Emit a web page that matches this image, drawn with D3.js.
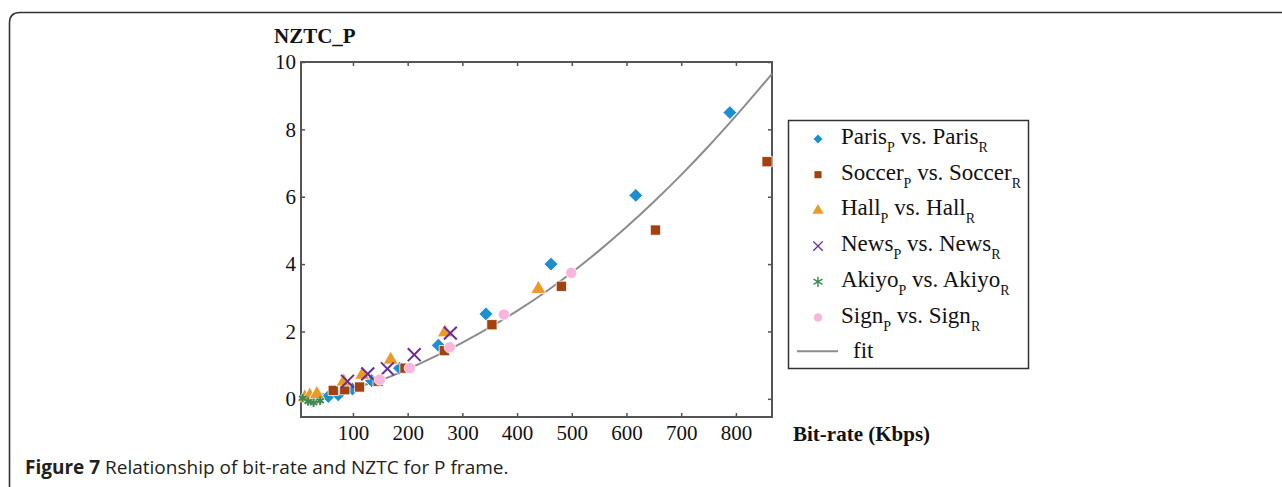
<!DOCTYPE html>
<html>
<head>
    <title>NZTC P frame</title>
    <script src="https://d3js.org/d3.v7.min.js"></script>
    <style>
      body{ margin:0; background:#fff; }
      .serif{ font-family:"Liberation Serif","Times New Roman",serif; fill:#111; }
      .tick text{ font-family:"Liberation Serif",serif; font-size:21px; fill:#111; }
      .tick line{ stroke:#555; stroke-width:1.5; }
      .domain{ display:none; }
      .caption{ font-family:"Open Sans","Noto Sans",sans-serif; font-size:19px; fill:#231f20; }
    </style>
</head>
<body>
<script>
  // bit-rate (Kbps) and NZTC values
  var parisX  = [55, 73, 99, 134, 185, 256, 343, 462, 617, 789];
  var parisY  = [0.07, 0.12, 0.29, 0.54, 0.91, 1.59, 2.52, 4.0, 6.04, 8.5];
  var soccerX = [64, 85, 112, 146, 195, 267, 354, 481, 653, 857];
  var soccerY = [0.25, 0.27, 0.35, 0.52, 0.91, 1.43, 2.2, 3.34, 5.01, 7.04];
  var hallX   = [12, 21, 34, 83, 117, 169, 268, 439];
  var hallY   = [0.04, 0.09, 0.14, 0.51, 0.71, 1.16, 1.97, 3.26];
  var newsX   = [90, 127, 163, 212, 278];
  var newsY   = [0.52, 0.74, 0.89, 1.31, 1.95];
  var akiyoX  = [8, 18, 28, 40];
  var akiyoY  = [0.02, -0.08, -0.12, -0.06];
  var signX   = [149, 204, 277, 376, 499];
  var signY   = [0.57, 0.91, 1.53, 2.5, 3.74];
  var fitX    = [5, 50, 100, 150, 200, 250, 300, 350, 400, 450, 500, 550, 600, 650, 700, 750, 800, 866];
  var fitY    = [0.0, 0.15, 0.33, 0.55, 0.88, 1.26, 1.67, 2.12, 2.61, 3.15, 3.75, 4.4, 5.1, 5.85, 6.65, 7.5, 8.4, 9.65];
  var xTicks  = [100, 200, 300, 400, 500, 600, 700, 800];
  var yTicks  = [0, 2, 4, 6, 8, 10];

  var series = [
    {name:"Paris",  xs:parisX,  ys:parisY,  shape:d3.symbolSquare,   rot:45, color:"#1c8fcf", size:95,  legSize:40, cross:false},
    {name:"Soccer", xs:soccerX, ys:soccerY, shape:d3.symbolSquare,   rot:0,  color:"#a3420f", size:105, legSize:50, cross:false},
    {name:"Hall",   xs:hallX,   ys:hallY,   shape:d3.symbolTriangle, rot:0,  color:"#eb9a2a", size:100, legSize:55, cross:false},
    {name:"News",   xs:newsX,   ys:newsY,   shape:d3.symbolTimes,    rot:0,  color:"#6a2c9c", size:110, legSize:60, cross:true},
    {name:"Akiyo",  xs:akiyoX,  ys:akiyoY,  shape:d3.symbolAsterisk, rot:0,  color:"#3b8a52", size:50,  legSize:75, cross:true},
    {name:"Sign",   xs:signX,   ys:signY,   shape:d3.symbolCircle,   rot:0,  color:"#f8b6dc", size:100, legSize:55, cross:false}
  ];

  var W = 1282, H = 487;
  var pl = 301, pr = 772, pt = 62, pb = 417;

  var svg = d3.select("body").append("svg").attr("width", W).attr("height", H);

  // outer figure frame (rounded top-left corner)
  svg.append("path")
    .attr("d", "M9.5," + H + "V23Q9.5,12.5 20,12.5H" + W)
    .attr("fill", "none").attr("stroke", "#333").attr("stroke-width", 1.6);

  var x = d3.scaleLinear().domain([5, 866]).range([pl, pr]);
  var y = d3.scaleLinear().domain([-0.54, 10]).range([pb, pt]);

  svg.append("g").attr("transform", "translate(0," + pb + ")")
    .call(d3.axisBottom(x).tickValues(xTicks).tickSizeInner(-4).tickSizeOuter(0).tickPadding(8));
  svg.append("g").attr("transform", "translate(0," + pt + ")")
    .call(d3.axisTop(x).tickValues(xTicks).tickSizeInner(-4).tickSizeOuter(0).tickFormat(""));
  svg.append("g").attr("transform", "translate(" + pl + ",0)")
    .call(d3.axisLeft(y).tickValues(yTicks).tickSizeInner(-4).tickSizeOuter(0).tickPadding(5));
  svg.append("g").attr("transform", "translate(" + pr + ",0)")
    .call(d3.axisRight(y).tickValues(yTicks).tickSizeInner(-4).tickSizeOuter(0).tickFormat(""));

  svg.append("rect").attr("x", pl).attr("y", pt)
    .attr("width", pr - pl).attr("height", pb - pt)
    .attr("fill", "none").attr("stroke", "#555").attr("stroke-width", 2);

  // fitted curve
  var fitPts = fitX.map(function(v, i){ return [v, fitY[i]]; });
  var line = d3.line().x(function(d){ return x(d[0]); }).y(function(d){ return y(d[1]); }).curve(d3.curveMonotoneX);
  svg.append("path").datum(fitPts).attr("d", line)
    .attr("fill", "none").attr("stroke", "#8c8c8c").attr("stroke-width", 2);

  // points
  series.forEach(function(s){
    var pts = s.xs.map(function(v, i){ return [v, s.ys[i]]; });
    svg.append("g").selectAll("path").data(pts).enter().append("path")
      .attr("transform", function(d){ return "translate(" + x(d[0]) + "," + y(d[1]) + ") rotate(" + s.rot + ")"; })
      .attr("d", d3.symbol().type(s.shape).size(s.size))
      .attr("fill", s.cross ? "none" : s.color)
      .attr("stroke", s.cross ? s.color : "#fff")
      .attr("stroke-width", s.cross ? 2 : 0.8);
  });

  // labels
  svg.append("text").attr("class", "serif").attr("x", 274).attr("y", 43)
    .style("font-size", "21px").style("font-weight", "bold").text("NZTC_P");
  svg.append("text").attr("class", "serif").attr("x", 793).attr("y", 441)
    .style("font-size", "21px").style("font-weight", "bold").text("Bit-rate (Kbps)");

  // legend
  var leg = svg.append("g");
  leg.append("rect").attr("x", 788.5).attr("y", 120.5).attr("width", 240).attr("height", 248)
    .attr("fill", "#fff").attr("stroke", "#333").attr("stroke-width", 1.5);
  series.forEach(function(s, i){
    var by = 144 + i * 35.7;
    leg.append("path").attr("transform", "translate(818," + (by - 5) + ") rotate(" + s.rot + ")")
      .attr("d", d3.symbol().type(s.shape).size(s.legSize))
      .attr("fill", s.cross ? "none" : s.color)
      .attr("stroke", s.cross ? s.color : "none").attr("stroke-width", 1.4);
    var t = leg.append("text").attr("class", "serif").attr("x", 841).attr("y", by).style("font-size", "23px");
    t.append("tspan").text(s.name);
    t.append("tspan").attr("dy", 8).style("font-size", "14px").text("P");
    t.append("tspan").attr("dy", -8).text(" vs. " + s.name);
    t.append("tspan").attr("dy", 8).style("font-size", "14px").text("R");
  });
  var fy = 144 + 6 * 35.7;
  leg.append("line").attr("x1", 797).attr("x2", 838).attr("y1", fy - 7).attr("y2", fy - 7)
    .attr("stroke", "#8c8c8c").attr("stroke-width", 2);
  leg.append("text").attr("class", "serif").attr("x", 853).attr("y", fy).style("font-size", "23px").text("fit");

  // caption
  var cap = svg.append("text").attr("class", "caption").attr("x", 25).attr("y", 474);
  cap.append("tspan").style("font-weight", "bold").text("Figure 7");
  cap.append("tspan").text(" Relationship of bit-rate and NZTC for P frame.");
</script>
</body>
</html>
